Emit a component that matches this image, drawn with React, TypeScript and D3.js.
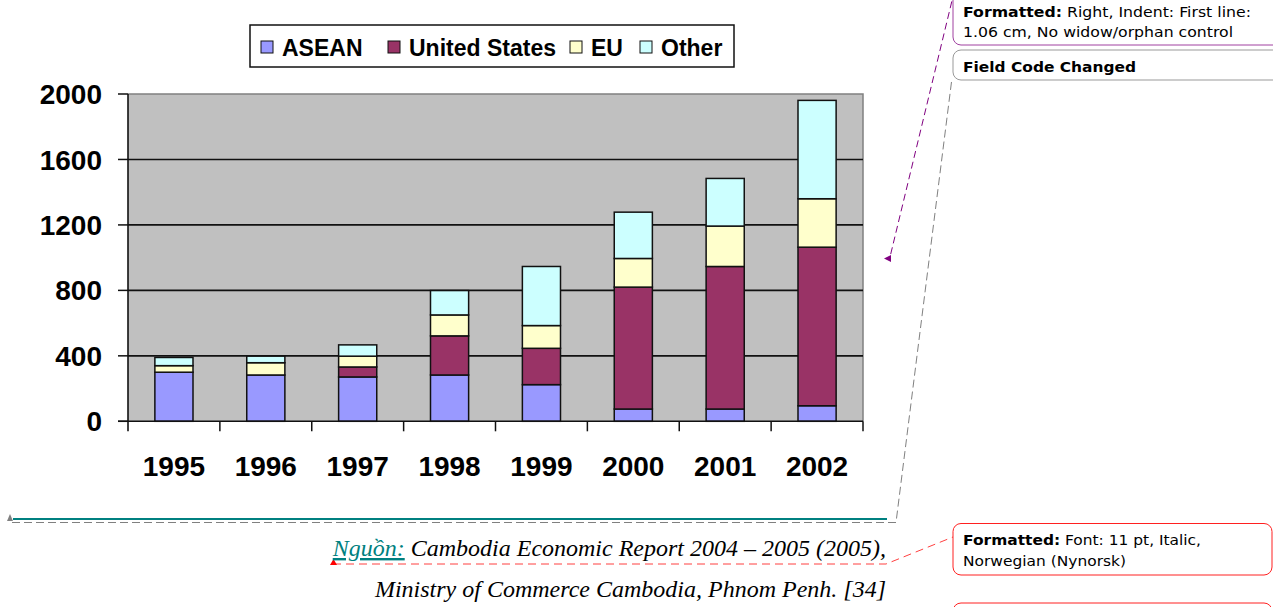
import React from 'react';
import * as d3 from 'd3';

// values (million USD)
const years = ['1995', '1996', '1997', '1998', '1999', '2000', '2001', '2002'];
const asean = [300, 283, 271, 283, 224, 75, 75, 95];
const unitedStates = [0, 0, 61, 239, 222, 745, 871, 969];
const eu = [40, 75, 66, 128, 139, 175, 247, 296];
const other = [50, 40, 69, 149, 361, 283, 291, 601];
const seriesNames = ['ASEAN', 'United States', 'EU', 'Other'];
const seriesColors = ['#9999FF', '#993366', '#FFFFCC', '#CCFFFF'];
const yTicks = [0, 400, 800, 1200, 1600, 2000];

const W = 1273;
const H = 607;
const plot = { left: 128, right: 863, top: 94, bottom: 421.3 };
const legendX = [261, 388, 570, 640];

const table = years.map((y, i) => ({
  year: y,
  ASEAN: asean[i],
  'United States': unitedStates[i],
  EU: eu[i],
  Other: other[i],
}));

const chartFont = '"Liberation Sans", Arial, sans-serif';
const noteFont = '"DejaVu Sans", Verdana, sans-serif';
const serifFont = '"Liberation Serif", "Times New Roman", serif';

export default function App() {
  const x = d3.scaleBand().domain(years).range([plot.left, plot.right]);
  const y = d3.scaleLinear().domain([0, 2000]).range([plot.bottom, plot.top]);
  const stacked = d3.stack<any>().keys(seriesNames)(table);
  const barW = x.bandwidth() * 0.415;

  return (
    <svg width={W} height={H} style={{ position: 'absolute', left: 0, top: 0, background: '#fff' }}>
      {/* plot area */}
      <rect x={plot.left} y={plot.top} width={plot.right - plot.left} height={plot.bottom - plot.top} fill="#C0C0C0" />
      <path d={`M${plot.left},${plot.top}H${plot.right}V${plot.bottom}`} fill="none" stroke="#808080" strokeWidth={1.5} />
      {yTicks.filter(t => t > 0 && t < 2000).map(t => (
        <line key={t} x1={plot.left} x2={plot.right} y1={y(t)} y2={y(t)} stroke="#111" strokeWidth={1.6} />
      ))}

      {/* bars */}
      {stacked.map((s, si) => (
        <g key={s.key} fill={seriesColors[si]} stroke="#111" strokeWidth={1.5}>
          {s.map((d, i) => (d[1] - d[0] > 0 ? (
            <rect key={i}
              x={(x(years[i]) as number) + (x.bandwidth() - barW) / 2}
              y={y(d[1])}
              width={barW}
              height={y(d[0]) - y(d[1])} />
          ) : null))}
        </g>
      ))}

      {/* axes */}
      <line x1={plot.left} x2={plot.left} y1={plot.top} y2={plot.bottom + 10} stroke="#111" strokeWidth={1.6} />
      <line x1={plot.left - 10} x2={plot.right} y1={plot.bottom} y2={plot.bottom} stroke="#111" strokeWidth={1.6} />
      {yTicks.map(t => (
        <g key={t}>
          <line x1={plot.left - 10} x2={plot.left} y1={y(t)} y2={y(t)} stroke="#111" strokeWidth={1.5} />
          <text x={102} y={y(t)} dy="0.36em" textAnchor="end" fontFamily={chartFont} fontWeight="bold" fontSize={28}>{t}</text>
        </g>
      ))}
      {years.map((yr, i) => (
        <g key={yr}>
          {i > 0 && <line x1={x(yr)} x2={x(yr)} y1={plot.bottom} y2={plot.bottom + 10} stroke="#111" strokeWidth={1.5} />}
          <text x={(x(yr) as number) + x.bandwidth() / 2} y={476} textAnchor="middle" fontFamily={chartFont} fontWeight="bold" fontSize={28}>{yr}</text>
        </g>
      ))}
      <line x1={plot.right} x2={plot.right} y1={plot.bottom} y2={plot.bottom + 10} stroke="#111" strokeWidth={1.5} />

      {/* legend */}
      <rect x={250} y={25} width={484} height={42} fill="#fff" stroke="#111" strokeWidth={1.5} />
      {seriesNames.map((n, i) => (
        <g key={n}>
          <rect x={legendX[i]} y={41} width={12} height={12} fill={seriesColors[i]} stroke="#111" strokeWidth={1} />
          <text x={legendX[i] + 21} y={56} fontFamily={chartFont} fontWeight="bold" fontSize={23}>{n}</text>
        </g>
      ))}

      {/* revision marks */}
      <line x1={13} x2={887} y1={519} y2={519} stroke="#008080" strokeWidth={2} />
      <polyline points="12,522.5 896,522.5 952,78" fill="none" stroke="#808080" strokeWidth={1} strokeDasharray="8 4" />
      <polygon points="7,521 10,514 13,521" fill="#808080" />
      <line x1={957} y1={-20} x2={890} y2={257} stroke="#800080" strokeWidth={1} strokeDasharray="7 4" />
      <polygon points="884,258.5 891,255 891,262" fill="#800080" />
      <polyline points="333,564 886,564 953,537" fill="none" stroke="#FF4040" strokeWidth={1} strokeDasharray="8 5" />
      <polygon points="330,565 333.5,559 337,565" fill="#FF0000" />

      {/* source */}
      <text x={886} y={556} textAnchor="end" fontFamily={serifFont} fontStyle="italic" fontSize={24}>
        <tspan fill="#008080" style={{ textDecoration: 'underline' }}>Nguồn:</tspan>
        <tspan fill="#000"> Cambodia Economic Report 2004 – 2005 (2005),</tspan>
      </text>
      <text x={886} y={597} textAnchor="end" fontFamily={serifFont} fontStyle="italic" fontSize={24}>
        Ministry of Commerce Cambodia, Phnom Penh. [34]
      </text>

      {/* comment balloons */}
      <rect x={953} y={-20} width={340} height={65} rx={8} fill="#fff" stroke="#A040A0" strokeWidth={1} />
      <text x={963} y={17} fontFamily={noteFont} fontSize={14.5} textLength={288} lengthAdjust="spacingAndGlyphs">
        <tspan fontWeight="bold">Formatted:</tspan> Right, Indent: First line:
      </text>
      <text x={963} y={37} fontFamily={noteFont} fontSize={14.5} textLength={270} lengthAdjust="spacingAndGlyphs">1.06 cm, No widow/orphan control</text>

      <rect x={953} y={50} width={340} height={30} rx={8} fill="#fff" stroke="#999" strokeWidth={1} />
      <text x={963} y={72} fontFamily={noteFont} fontSize={14.5} fontWeight="bold" textLength={173} lengthAdjust="spacingAndGlyphs">Field Code Changed</text>

      <rect x={953} y={523.5} width={319} height={51.5} rx={8} fill="#fff" stroke="#FF2020" strokeWidth={1} />
      <text x={963} y={545} fontFamily={noteFont} fontSize={14.5} textLength={238} lengthAdjust="spacingAndGlyphs">
        <tspan fontWeight="bold">Formatted:</tspan> Font: 11 pt, Italic,
      </text>
      <text x={963} y={566} fontFamily={noteFont} fontSize={14.5} textLength={163} lengthAdjust="spacingAndGlyphs">Norwegian (Nynorsk)</text>

      <rect x={953} y={603} width={319} height={40} rx={8} fill="#fff" stroke="#FF2020" strokeWidth={1} />
    </svg>
  );
}
